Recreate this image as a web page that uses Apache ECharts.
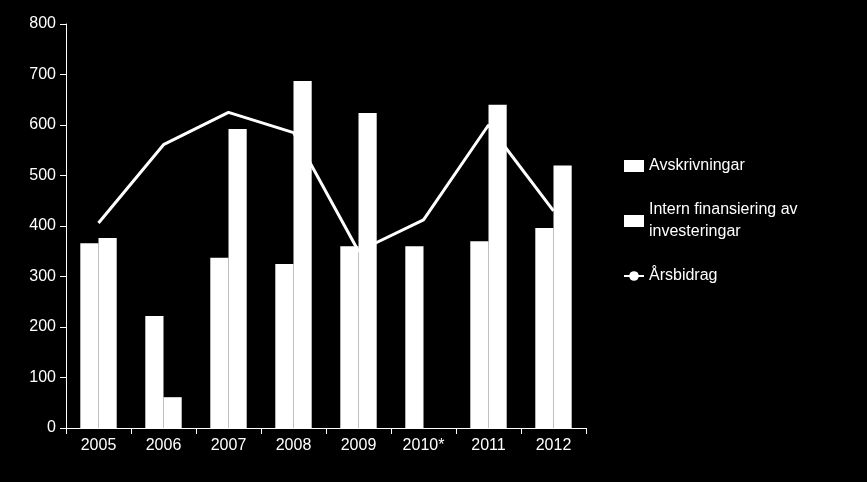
<!DOCTYPE html>
<html><head><meta charset="utf-8">
<script src="https://cdn.jsdelivr.net/npm/echarts@6/dist/echarts.min.js"></script>
<style>html,body{margin:0;background:#000}#c{width:867px;height:482px}</style>
</head><body><div id="c"></div>
<script>
const categories=['2005','2006','2007','2008','2009','2010*','2011','2012'];
const avskrivningar=[366,222,337,325,360,360,370,396];
const internFinansiering=[376,61,592,687,624,null,640,520];
const arsbidrag=[406,561,625,585,350,412,600,430];
const yTicks={min:0,max:800,interval:100};
const font='"Liberation Sans", sans-serif';
const chart=echarts.init(document.getElementById('c'));
chart.setOption({
  backgroundColor:'#000',animation:false,
  grid:{left:66,right:281,top:24,bottom:54},
  legend:{orient:'vertical',left:618,top:150,itemGap:22,itemWidth:20,itemHeight:12,
    textStyle:{color:'#fff',fontSize:16,fontFamily:font,lineHeight:22},
    data:[{name:'Avskrivningar',icon:'rect'},{name:'Intern finansiering av\ninvesteringar',icon:'rect'},{name:'Årsbidrag'}]},
  xAxis:{type:'category',data:categories,
    axisLine:{lineStyle:{color:'#fff',width:1}},
    axisTick:{show:true,inside:false,length:6,lineStyle:{color:'#fff'}},
    axisLabel:{color:'#fff',fontSize:16,fontFamily:font,margin:10}},
  yAxis:{type:'value',min:yTicks.min,max:yTicks.max,interval:yTicks.interval,
    axisLine:{show:true,lineStyle:{color:'#fff'}},
    axisTick:{show:true,length:6,lineStyle:{color:'#fff'}},
    splitLine:{show:false},
    axisLabel:{color:'#fff',fontSize:16,fontFamily:font,margin:10}},
  series:[
    {name:'Avskrivningar',type:'bar',data:avskrivningar,barGap:'0%',barCategoryGap:'44%',itemStyle:{color:'#fff'}},
    {name:'Intern finansiering av\ninvesteringar',type:'bar',data:internFinansiering,itemStyle:{color:'#fff'}},
    {name:'Årsbidrag',type:'line',data:arsbidrag,symbol:'none',lineStyle:{color:'#fff',width:3},itemStyle:{color:'#fff'}}
  ]
});
</script></body></html>
